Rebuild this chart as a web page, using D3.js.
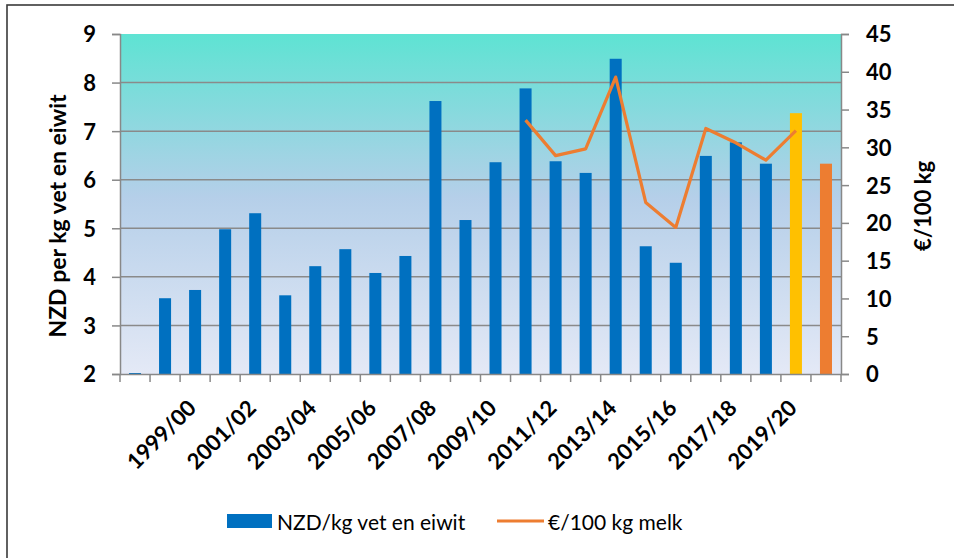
<!DOCTYPE html>
<html lang="en">
<head>
<meta charset="utf-8">
<script src="https://d3js.org/d3.v7.min.js"></script>
<style type="text/css">
body {
    margin: 0;
    background: #fff;
}
svg text {
    font-family: Lato, "Open Sans", sans-serif;
    fill: #000;
}
.tick-lbl {
    font-size: 22px;
    font-weight: bold;
}
</style>
</head>
<body>
<div id="chart"></div>
<script type="text/javascript">

// seasons on the category axis
var seasons = ["1997/98", "1998/99", "1999/00", "2000/01", "2001/02", "2002/03", "2003/04", "2004/05",
    "2005/06", "2006/07", "2007/08", "2008/09", "2009/10", "2010/11", "2011/12", "2012/13",
    "2013/14", "2014/15", "2015/16", "2016/17", "2017/18", "2018/19", "2019/20", "2020/21"];

// labels actually shown (every other season)
var shownLabels = ["1999/00", "2001/02", "2003/04", "2005/06", "2007/08", "2009/10",
    "2011/12", "2013/14", "2015/16", "2017/18", "2019/20"];

// NZD per kg fat and protein
var nzdValues = [2.02, 3.56, 3.73, 4.98, 5.31, 3.62, 4.22, 4.57, 4.08, 4.43, 7.62, 5.17,
    6.36, 7.88, 6.38, 6.14, 8.49, 4.63, 4.29, 6.49, 6.77, 6.33, 7.37, 6.33];

// bar colours (last two seasons are forecasts)
var barColors = ["#0070C0", "#0070C0", "#0070C0", "#0070C0", "#0070C0", "#0070C0", "#0070C0", "#0070C0",
    "#0070C0", "#0070C0", "#0070C0", "#0070C0", "#0070C0", "#0070C0", "#0070C0", "#0070C0",
    "#0070C0", "#0070C0", "#0070C0", "#0070C0", "#0070C0", "#0070C0", "#FFC000", "#ED7D31"];

// euro per 100 kg milk
var euroValues = [null, null, null, null, null, null, null, null, null, null, null, null, null,
    33.6, 28.9, 29.8, 39.3, 22.7, 19.4, 32.5, 30.6, 28.3, 32.2, null];

var leftTicks = [2, 3, 4, 5, 6, 7, 8, 9];
var rightTicks = [0, 5, 10, 15, 20, 25, 30, 35, 40, 45];

var width = 954, height = 558;
var plot = {left: 120, right: 841, top: 34, bottom: 374};

var svg = d3.select("#chart").append("svg")
    .attr("width", width)
    .attr("height", height);

// outer frame (only top & left visible, chart is cropped)
svg.append("rect")
    .attr("x", 7).attr("y", 5)
    .attr("width", 980).attr("height", 600)
    .attr("fill", "none")
    .attr("stroke", "#3a3a3a")
    .attr("stroke-width", 1.6);

var x = d3.scaleBand()
    .domain(seasons)
    .range([plot.left, plot.right])
    .paddingInner(0.6)
    .paddingOuter(0.3);

var xBand = d3.scaleBand().domain(seasons).range([plot.left, plot.right]);

var yLeft = d3.scaleLinear().domain([2, 9]).range([plot.bottom, plot.top]);
var yRight = d3.scaleLinear().domain([0, 45]).range([plot.bottom, plot.top]);

// gradient background of plot area
var defs = svg.append("defs");
var grad = defs.append("linearGradient")
    .attr("id", "bg")
    .attr("x1", 0).attr("y1", 0).attr("x2", 0).attr("y2", 1);
grad.append("stop").attr("offset", "0%").attr("stop-color", "#5EE3D3");
grad.append("stop").attr("offset", "48%").attr("stop-color", "#B5CFE9");
grad.append("stop").attr("offset", "100%").attr("stop-color", "#E4E9F6");

svg.append("rect")
    .attr("x", plot.left).attr("y", plot.top)
    .attr("width", plot.right - plot.left)
    .attr("height", plot.bottom - plot.top)
    .attr("fill", "url(#bg)");

// gridlines
svg.append("g")
    .selectAll("line")
    .data(leftTicks.slice(1, -1))
    .enter()
    .append("line")
    .attr("x1", plot.left).attr("x2", plot.right)
    .attr("y1", function(d) { return yLeft(d); })
    .attr("y2", function(d) { return yLeft(d); })
    .attr("stroke", "#8a8a8a")
    .attr("stroke-width", 1.5);

// bars
svg.append("g")
    .selectAll("rect")
    .data(nzdValues)
    .enter()
    .append("rect")
    .attr("x", function(d, i) { return x(seasons[i]); })
    .attr("y", function(d) { return yLeft(d); })
    .attr("width", x.bandwidth())
    .attr("height", function(d) { return yLeft(2) - yLeft(d); })
    .attr("fill", function(d, i) { return barColors[i]; });

// line
var line = d3.line()
    .defined(function(d) { return d != null; })
    .x(function(d, i) { return xBand(seasons[i]) + xBand.bandwidth() / 2; })
    .y(function(d) { return yRight(d); });

svg.append("path")
    .datum(euroValues)
    .attr("d", line)
    .attr("fill", "none")
    .attr("stroke", "#ED7D31")
    .attr("stroke-width", 3.2)
    .attr("stroke-linejoin", "round");

// axes
var axisColor = "#888";

var leftAxis = svg.append("g")
    .attr("transform", "translate(" + plot.left + ",0)")
    .call(d3.axisLeft(yLeft).tickValues(leftTicks).tickFormat(d3.format("d")).tickSize(8).tickPadding(16));

var rightAxis = svg.append("g")
    .attr("transform", "translate(" + plot.right + ",0)")
    .call(d3.axisRight(yRight).tickValues(rightTicks).tickFormat(d3.format("d")).tickSize(8).tickPadding(17));

var bottomAxis = svg.append("g")
    .attr("transform", "translate(0," + plot.bottom + ")")
    .call(d3.axisBottom(xBand).tickSize(0).tickFormat(""));

[leftAxis, rightAxis, bottomAxis].forEach(function(a) {
    a.select(".domain").attr("stroke", axisColor).attr("stroke-width", 1.5);
    a.selectAll(".tick line").attr("stroke", axisColor).attr("stroke-width", 1.5);
    a.selectAll(".tick text").attr("class", "tick-lbl").attr("fill", "#000");
});
leftAxis.selectAll(".tick text").attr("dy", "0.36em");
rightAxis.selectAll(".tick text").attr("dy", "0.36em");

// category boundary ticks
svg.append("g")
    .selectAll("line")
    .data(seasons.concat(["end"]))
    .enter()
    .append("line")
    .attr("x1", function(d, i) { return plot.left + i * xBand.step(); })
    .attr("x2", function(d, i) { return plot.left + i * xBand.step(); })
    .attr("y1", plot.bottom)
    .attr("y2", plot.bottom + 8)
    .attr("stroke", axisColor)
    .attr("stroke-width", 1.5);

// rotated category labels
svg.append("g")
    .selectAll("text")
    .data(shownLabels)
    .enter()
    .append("text")
    .attr("class", "tick-lbl")
    .attr("text-anchor", "end")
    .attr("dy", "0.35em")
    .attr("transform", function(d) {
        var cx = xBand(d) + xBand.bandwidth() / 2 - 3;
        return "translate(" + cx + "," + (plot.bottom + 30) + ") rotate(-45)";
    })
    .text(function(d) { return d; });

// axis titles
svg.append("text")
    .attr("transform", "translate(66,216) rotate(-90)")
    .attr("text-anchor", "middle")
    .style("font-size", "23px")
    .style("font-weight", "bold")
    .text("NZD per kg vet en eiwit");

svg.append("text")
    .attr("transform", "translate(931,206) rotate(-90)")
    .attr("text-anchor", "middle")
    .style("font-size", "22px")
    .style("font-weight", "bold")
    .text("€/100 kg");

// legend
var legend = svg.append("g");
legend.append("rect")
    .attr("x", 227).attr("y", 514)
    .attr("width", 45).attr("height", 14)
    .attr("fill", "#0070C0");
legend.append("text")
    .attr("x", 277).attr("y", 530)
    .style("font-size", "21px")
    .text("NZD/kg vet en eiwit");
legend.append("line")
    .attr("x1", 497).attr("x2", 544)
    .attr("y1", 521).attr("y2", 521)
    .attr("stroke", "#ED7D31")
    .attr("stroke-width", 3.2);
legend.append("text")
    .attr("x", 548).attr("y", 530)
    .style("font-size", "21px")
    .text("€/100 kg melk");

</script>
</body>
</html>
